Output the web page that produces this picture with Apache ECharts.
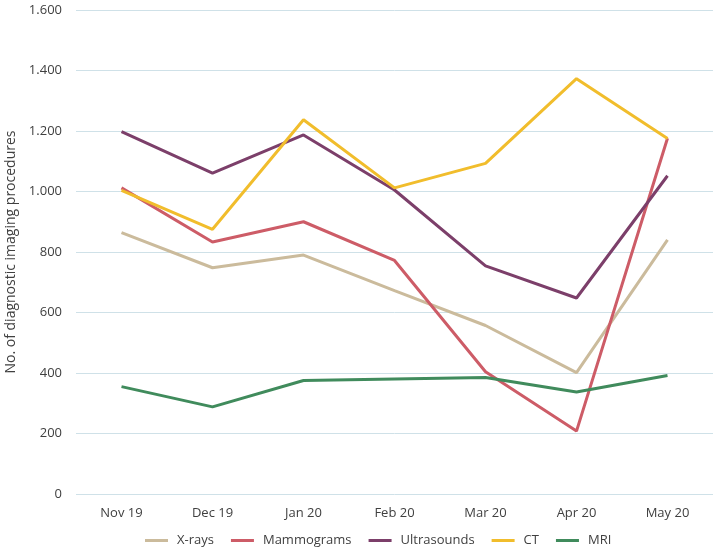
<!DOCTYPE html>
<html>
<head>
<meta charset="utf-8">
<script src="https://cdn.jsdelivr.net/npm/echarts@6/dist/echarts.min.js"></script>
<style>html,body{margin:0;padding:0;background:#fff}#c{width:715px;height:553px}</style>
</head>
<body>
<div id="c"></div>
<script>
const categories = ['Nov 19','Dec 19','Jan 20','Feb 20','Mar 20','Apr 20','May 20'];
const xrays = [864, 748, 790, 672, 557, 401, 840];
const mammograms = [1012, 833, 900, 772, 404, 208, 1176];
const ultrasounds = [1198, 1061, 1187, 1005, 754, 648, 1052];
const ct = [1004, 875, 1237, 1012, 1093, 1373, 1175];
const mri = [355, 288, 375, 380, 385, 337, 392];
const yTicks = [0, 200, 400, 600, 800, 1000, 1200, 1400, 1600];

const font = 'Open Sans';
const txt = '#404040';
function mk(name, data, color) {
  return { name, type: 'line', data, symbol: 'none', lineStyle: { width: 3, color }, itemStyle: { color } };
}
const chart = echarts.init(document.getElementById('c'));
chart.setOption({
  animation: false,
  textStyle: { fontFamily: font },
  grid: { left: 76, right: 2, top: 10, bottom: 59, containLabel: false, outerBoundsMode: 'none' },
  legend: {
    top: 534, left: 145, padding: 0, icon: 'rect', itemWidth: 23, itemHeight: 3, itemGap: 17,
    textStyle: { fontFamily: font, fontSize: 13, color: txt, padding: [0, 0, 0, 4] }
  },
  xAxis: {
    type: 'category', data: categories, boundaryGap: true,
    axisLine: { show: false }, axisTick: { show: false },
    axisLabel: { fontFamily: font, fontSize: 13, color: txt, margin: 13 }
  },
  yAxis: {
    type: 'value', min: 0, max: 1600, interval: 200,
    name: 'No. of diagnostic imaging procedures', nameLocation: 'middle', nameGap: 57, nameRotate: 90,
    nameTextStyle: { fontFamily: font, fontSize: 14, color: txt },
    axisLine: { show: false }, axisTick: { show: false },
    splitLine: { lineStyle: { color: '#cfe1e8', width: 1 } },
    axisLabel: {
      fontFamily: font, fontSize: 13, color: txt, margin: 14,
      formatter: v => yTicks.includes(v) ? String(v).replace(/\B(?=(\d{3})+(?!\d))/g, '.') : ''
    }
  },
  series: [
    mk('X-rays', xrays, '#cbbb9c'),
    mk('Mammograms', mammograms, '#cd5c67'),
    mk('Ultrasounds', ultrasounds, '#7c3f6a'),
    mk('CT', ct, '#f1bd2c'),
    mk('MRI', mri, '#408b5c')
  ]
});
</script>
</body>
</html>
